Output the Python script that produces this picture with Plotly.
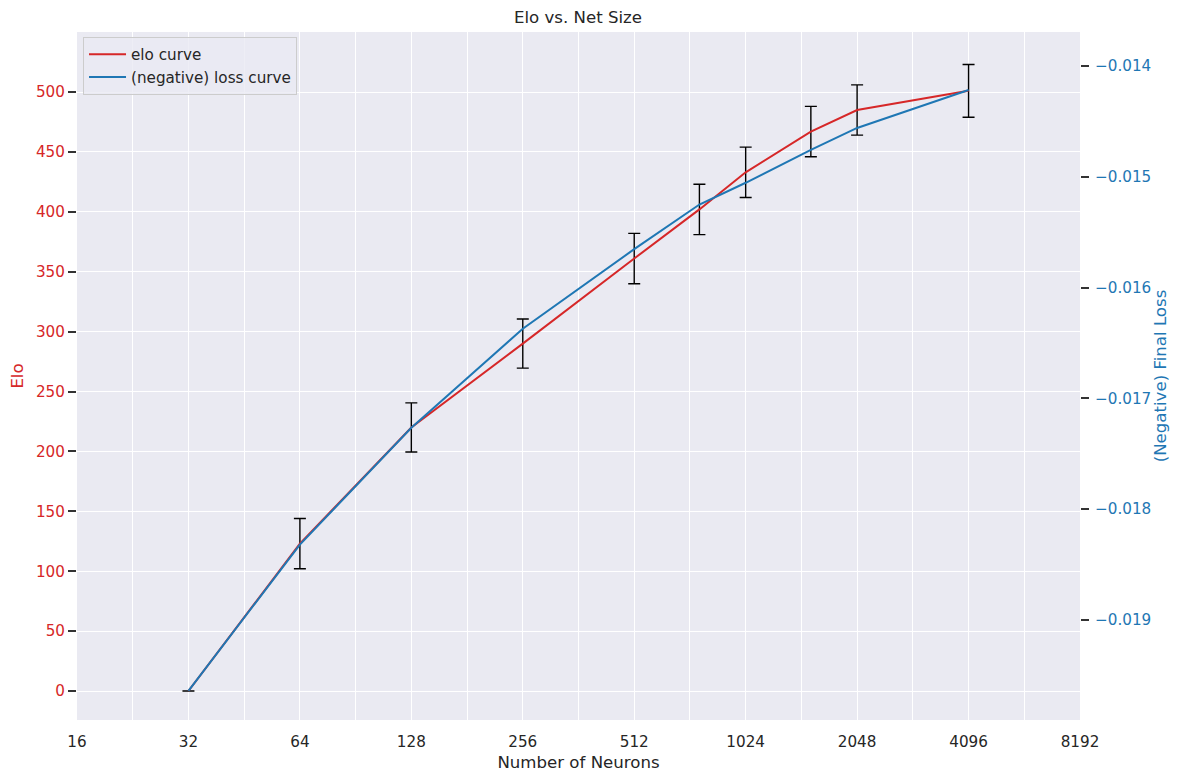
import plotly.graph_objects as go

# dados
neurons = [32, 64, 128, 256, 512, 768, 1024, 1536, 2048, 4096]
elo = [0, 123, 220, 290, 361, 402, 433, 467, 485, 501]
elo_err = [0, 21, 20.5, 20.5, 21, 21, 21, 21, 21, 22]
neg_loss = [-0.01964, -0.01832, -0.017265, -0.016372, -0.015653, -0.01525, -0.015054, -0.014757, -0.014559, -0.014216]

x_ticks = [16, 32, 64, 128, 256, 512, 1024, 2048, 4096, 8192]
elo_ticks = [0, 50, 100, 150, 200, 250, 300, 350, 400, 450, 500]
loss_ticks = [-0.014, -0.015, -0.016, -0.017, -0.018, -0.019]

red = '#d62728'
blue = '#1f77b4'
fonte = 'DejaVu Sans'

# grade em meias oitavas, rotulo so nas potencias de 2
grid_vals = [16 * 2 ** (k / 2) for k in range(19)]
grid_text = [str(int(round(v))) if round(v) in x_ticks else '' for v in grid_vals]

fig = go.Figure()
fig.add_trace(go.Scatter(
    x=neurons, y=elo, mode='lines', name='elo curve',
    line=dict(color=red, width=2),
    error_y=dict(type='data', array=elo_err, color='black', thickness=1.4, width=6),
))
fig.add_trace(go.Scatter(
    x=neurons, y=neg_loss, mode='lines', name='(negative) loss curve',
    line=dict(color=blue, width=2), yaxis='y2',
))

# a pagina tem margem de 8px no body, por isso a figura e um pouco menor
fig.update_layout(
    width=1176, height=776,
    paper_bgcolor='white', plot_bgcolor='#EAEAF2',
    margin=dict(l=69, r=104, t=24, b=64),
    font=dict(family=fonte, size=15.2, color='#262626'),
    title=dict(text='Elo vs. Net Size', x=0.4847, xanchor='center', y=0.9878, yanchor='middle',
               font=dict(size=16.6, color='#262626')),
    showlegend=True,
    legend=dict(x=0.006, y=0.993, xanchor='left', yanchor='top',
                bgcolor='rgba(234,234,242,0.8)', bordercolor='#cccccc', borderwidth=1,
                font=dict(size=15.2, color='#262626'), itemwidth=37),
    xaxis=dict(
        type='log', range=[1.20412, 3.91339],
        tickvals=grid_vals, ticktext=grid_text, ticks='', ticklabelstandoff=11,
        showgrid=True, gridcolor='white', gridwidth=1.3, zeroline=False,
        title=dict(text='Number of Neurons', font=dict(size=16.6), standoff=6),
        tickfont=dict(size=15.2, color='#262626'),
    ),
    yaxis=dict(
        range=[-24.2, 550.1], tickvals=elo_ticks, automargin=False,
        ticks='outside', ticklen=8, tickwidth=1.5, tickcolor='#333333',
        showgrid=True, gridcolor='white', gridwidth=1.3, zeroline=False,
        tickfont=dict(size=15.2, color=red),
        title=dict(text='Elo', font=dict(size=16.6, color=red), standoff=12),
    ),
    yaxis2=dict(
        overlaying='y', side='right', range=[-0.019903, -0.013693],
        tickvals=loss_ticks, ticktext=['\u2212%.3f' % abs(v) for v in loss_ticks],
        ticks='outside', ticklen=8, tickwidth=1.5, tickcolor='#333333', ticklabelstandoff=3,
        showgrid=False, zeroline=False,
        tickfont=dict(size=15.2, color=blue),
        title=dict(text='(Negative) Final Loss', font=dict(size=16.6, color=blue), standoff=4),
    ),
)

fig.write_html('out.html')
